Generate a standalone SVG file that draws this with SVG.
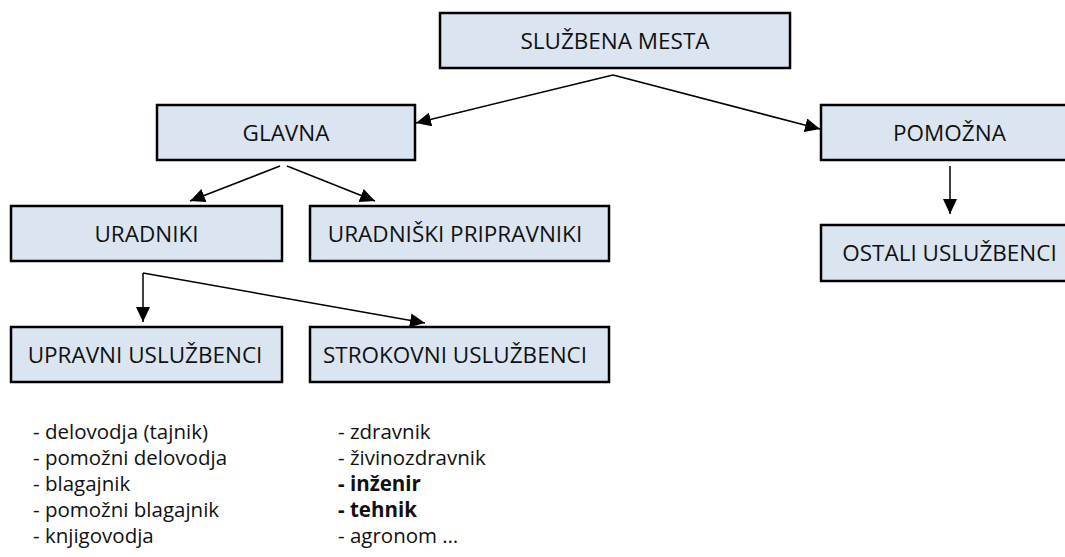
<svg xmlns="http://www.w3.org/2000/svg" width="1065" height="557" viewBox="0 0 1065 557">
<style>
.box{fill:#dbe5f1;stroke:#000;stroke-width:2.5}
.lbl{font-family:"Open Sans","Noto Sans",sans-serif;font-size:22.5px;fill:#111;text-anchor:middle}
.lst{font-family:"Open Sans","Noto Sans",sans-serif;font-size:20.5px;fill:#111}
.b{font-weight:bold}
.con{fill:none;stroke:#000;stroke-width:1.5;marker-end:url(#ah)}
</style>
<defs>
<marker id="ah" viewBox="0 0 15 14" markerWidth="15" markerHeight="14" refX="15" refY="7" orient="auto" markerUnits="userSpaceOnUse">
<path d="M0,0 L15,7 L0,14 Z" fill="#000"/>
</marker>
</defs>
<rect width="1065" height="557" fill="#fff"/>
<g id="connectors">
<path class="con" d="M613,75 L416,123"/>
<path class="con" d="M613,75 L820,129"/>
<path class="con" d="M280,166 L190,201"/>
<path class="con" d="M287,166 L375,201"/>
<path class="con" d="M950,166 L950,214"/>
<path class="con" d="M143,273 L143,322"/>
<path class="con" d="M143,273 L425,323"/>
</g>
<g id="sluzbena-mesta"><rect class="box" x="440" y="13" width="350" height="55"/><text class="lbl" x="615" y="48.5">SLUŽBENA MESTA</text></g>
<g id="glavna"><rect class="box" x="157" y="105" width="258" height="55"/><text class="lbl" x="286" y="140.5">GLAVNA</text></g>
<g id="pomozna"><rect class="box" x="821" y="105" width="257" height="55"/><text class="lbl" x="949.5" y="140.5">POMOŽNA</text></g>
<g id="uradniki"><rect class="box" x="11" y="206" width="271" height="55"/><text class="lbl" x="146.5" y="241.5">URADNIKI</text></g>
<g id="uradniski-pripravniki"><rect class="box" x="310" y="206" width="299" height="55"/><text class="lbl" x="455" y="241.5">URADNIŠKI PRIPRAVNIKI</text></g>
<g id="ostali-usluzbenci"><rect class="box" x="821" y="225" width="257" height="56"/><text class="lbl" x="949.5" y="261">OSTALI USLUŽBENCI</text></g>
<g id="upravni-usluzbenci"><rect class="box" x="11" y="327" width="271" height="55"/><text class="lbl" x="145" y="362.5">UPRAVNI USLUŽBENCI</text></g>
<g id="strokovni-usluzbenci"><rect class="box" x="310" y="327" width="299" height="55"/><text class="lbl" x="455" y="362.5">STROKOVNI USLUŽBENCI</text></g>
<g id="upravni-list" class="lst">
<text x="33" y="439">- delovodja (tajnik)</text>
<text x="33" y="465">- pomožni delovodja</text>
<text x="33" y="491">- blagajnik</text>
<text x="33" y="517">- pomožni blagajnik</text>
<text x="33" y="543">- knjigovodja</text>
</g>
<g id="strokovni-list" class="lst">
<text x="338" y="439">- zdravnik</text>
<text x="338" y="465">- živinozdravnik</text>
<text x="338" y="491" class="b">- inženir</text>
<text x="338" y="517" class="b">- tehnik</text>
<text x="338" y="543">- agronom …</text>
</g>
</svg>
